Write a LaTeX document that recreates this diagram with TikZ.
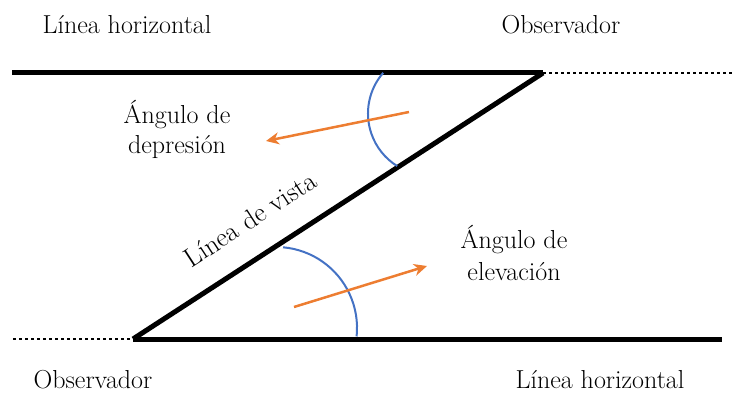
\documentclass[tikz,border=0pt]{standalone}
\usetikzlibrary{arrows.meta}
\definecolor{arcblue}{HTML}{4472C4}
\definecolor{arrorange}{HTML}{ED7D31}
\begin{document}
\begin{tikzpicture}[x=1pt,y=1pt,
  lbl/.style={font=\fontsize{26}{31}\selectfont, inner sep=0pt, anchor=base},
  thickline/.style={line width=5pt, line cap=butt},
  dotline/.style={line width=2.5pt, dash pattern=on 2.5pt off 3.5pt},
  anglearc/.style={arcblue, line width=2pt},
  pointer/.style={arrorange, line width=2.5pt, -{Stealth[length=13pt,width=12pt,inset=4pt]}}]
\useasboundingbox (0,0) rectangle (732,392);
% key points
\coordinate (tl) at (12,319);
\coordinate (tv) at (543,319);
\coordinate (tr) at (732,319);
\coordinate (bl) at (13,53);
\coordinate (bv) at (133,53);
\coordinate (br) at (722,53);
% lines
\draw[dotline] (tv) -- (tr);
\draw[dotline] (bl) -- (bv);
\draw[thickline] (tl) -- (tv);
\draw[thickline] (bv) -- (br);
\draw[line width=5pt, line join=miter] (bv) -- (tv);
% arcs
\coordinate (ta) at (383.2,319.2);
\draw[anglearc] (ta) arc[start angle=139, end angle=238, radius=62];
\coordinate (ba) at (283.1,144.7);
\draw[anglearc] (ba) arc[start angle=85, end angle=-6, radius=81];
% arrows
\coordinate (t1) at (409,280);
\coordinate (t2) at (266,251);
\coordinate (b1) at (294,85);
\coordinate (b2) at (427,126);
\draw[pointer] (t1) -- (t2);
\draw[pointer] (b1) -- (b2);
% labels
\node[lbl] (lht) at (127,359) {Línea horizontal};
\node[lbl] (obt) at (561,359) {Observador};
\node[lbl] (obb) at (93,4) {Observador};
\node[lbl] (lhb) at (600,4) {Línea horizontal};
\node[lbl] (ad1) at (177,269) {Ángulo de};
\node[lbl] (ad2) at (177,239) {depresión};
\node[lbl] (ae1) at (514,144) {Ángulo de};
\node[lbl] (ae2) at (514,112) {elevación};
\node[font=\fontsize{27}{31}\selectfont, inner sep=0pt, rotate=33] (lv) at (250,173) {Línea de vista};
\end{tikzpicture}
\end{document}
